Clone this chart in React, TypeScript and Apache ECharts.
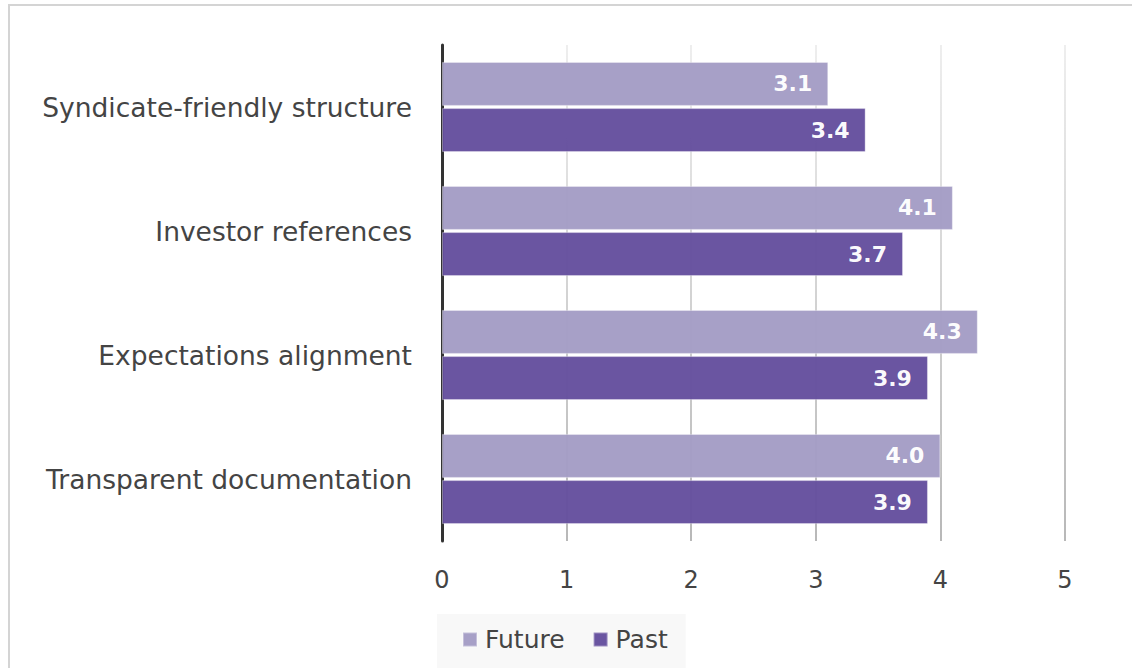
import React, { useEffect, useRef } from "react";
import * as echarts from "echarts";

const categories = [
  "Syndicate-friendly structure",
  "Investor references",
  "Expectations alignment",
  "Transparent documentation",
];
const futureValues = [3.1, 4.1, 4.3, 4.0];
const pastValues = [3.4, 3.7, 3.9, 3.9];
const seriesNames = ["Future", "Past"];

const FONT = "'DejaVu Sans', 'Noto Sans', sans-serif";

export default function App() {
  const ref = useRef<HTMLDivElement>(null);
  useEffect(() => {
    if (!ref.current) return;
    const chart = echarts.init(ref.current, undefined, { renderer: "svg" });
    const labelCfg = {
      show: true,
      position: "insideRight",
      distance: 16,
      color: "#ffffff",
      fontWeight: "bold",
      fontSize: 22,
      fontFamily: FONT,
      formatter: (p: any) => Number(p.value).toFixed(1),
    };
    chart.setOption({
      animation: false,
      backgroundColor: "transparent",
      textStyle: { fontFamily: FONT },
      grid: { left: 442, right: 67, top: 45, bottom: 127, containLabel: false },
      legend: {
        data: seriesNames,
        left: 437,
        top: 614,
        backgroundColor: "#f8f8f8",
        padding: [13, 18, 16, 25],
        itemWidth: 14,
        itemHeight: 14,
        itemGap: 28,
        icon: "rect",
        textStyle: { fontSize: 25, color: "#444", fontFamily: FONT, padding: [0, 0, 0, 3] },
      },
      xAxis: {
        type: "value",
        min: 0,
        max: 5,
        interval: 1,
        axisLine: { show: false },
        axisTick: { show: false },
        axisLabel: { fontSize: 24, color: "#444", margin: 27, fontFamily: FONT },
        splitLine: {
          show: true,
          lineStyle: {
            width: 2,
            color: new echarts.graphic.LinearGradient(
              0, 45, 0, 541,
              [
                { offset: 0, color: "#eeeeee" },
                { offset: 1, color: "#b8b8b8" },
              ],
              true
            ),
          },
        },
      },
      yAxis: {
        type: "category",
        data: categories,
        inverse: true,
        axisLine: { show: true, lineStyle: { color: "#333", width: 3 } },
        axisTick: { show: false },
        axisLabel: { fontSize: 26.5, color: "#444", margin: 30, fontFamily: FONT },
        splitLine: { show: false },
      },
      series: [
        {
          name: seriesNames[0],
          type: "bar",
          data: futureValues,
          barWidth: 44,
          barGap: "5%",
          itemStyle: { color: "#a49dc5", opacity: 0.97, borderColor: "rgba(255,255,255,0.35)", borderWidth: 1 },
          label: labelCfg,
        },
        {
          name: seriesNames[1],
          type: "bar",
          data: pastValues,
          barWidth: 44,
          barGap: "5%",
          itemStyle: { color: "#654f9e", opacity: 0.97, borderColor: "rgba(255,255,255,0.35)", borderWidth: 1 },
          label: labelCfg,
        },
      ],
    });
    return () => chart.dispose();
  }, []);
  return (
    <div style={{ position: "fixed", left: 0, top: 0, width: 1132, height: 668, overflow: "hidden", background: "#fff" }}>
      <div
        style={{
          position: "absolute",
          left: 8,
          top: 4,
          width: 1140,
          height: 700,
          border: "2px solid #d4d4d4",
          boxSizing: "border-box",
        }}
      />
      <div ref={ref} style={{ position: "absolute", left: 0, top: 0, width: 1132, height: 668 }} />
    </div>
  );
}
